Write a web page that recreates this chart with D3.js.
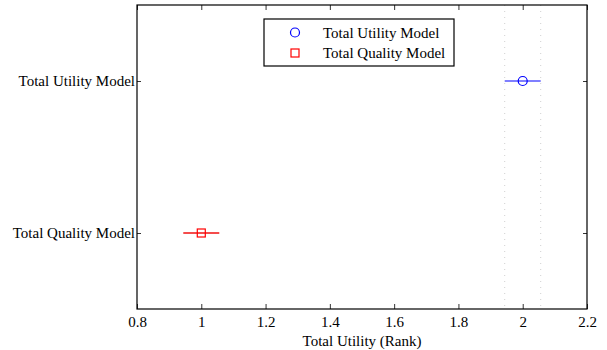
<!DOCTYPE html>
<html>
<head>
<meta charset="utf-8">
<script src="https://cdn.jsdelivr.net/npm/d3@7"></script>
<style>
  body { margin: 0; background: #fff; }
  text { font-family: "Liberation Serif", "Times New Roman", serif; fill: #000; }
</style>
</head>
<body>
<svg id="chart"></svg>
<script>
const models = ["Total Quality Model", "Total Utility Model"];
const means = [1, 2];
const halfWidths = [0.056, 0.056];
const colors = ["#ff0000", "#0000ff"];
const lineColors = ["#f01010", "#5555ff"];
const markers = ["square", "circle"];
const xTicks = [0.8, 1, 1.2, 1.4, 1.6, 1.8, 2, 2.2];
const refModel = 1; // the highlighted group whose interval is marked

const W = 607, H = 350;
const margin = { top: 5, right: 20, bottom: 41, left: 137 };
const width = W - margin.left - margin.right;
const height = H - margin.top - margin.bottom;
const fs = "15px";

const svg = d3.select("#chart").attr("width", W).attr("height", H)
  .append("g").attr("transform", `translate(${margin.left},${margin.top})`);

const x = d3.scaleLinear().domain([0.8, 2.2]).range([0, width]);
const y = d3.scaleLinear().domain([0.5, 2.5]).range([height, 0]);

// reference interval lines
[means[refModel] - halfWidths[refModel], means[refModel] + halfWidths[refModel]].forEach(v => {
  svg.append("line")
    .attr("x1", x(v)).attr("x2", x(v))
    .attr("y1", 0).attr("y2", height)
    .attr("stroke", "#d0d0d0").attr("stroke-width", 1)
    .attr("stroke-dasharray", "1,5");
});

// axes
const xAxis = d3.axisBottom(x).tickValues(xTicks).tickFormat(d3.format("")).tickSizeInner(-5).tickSizeOuter(0).tickPadding(7);
const gx = svg.append("g").attr("transform", `translate(0,${height})`).call(xAxis);
const gxTop = svg.append("g").call(d3.axisTop(x).tickValues(xTicks).tickFormat("").tickSizeInner(-5).tickSizeOuter(0));
const yAxis = d3.axisLeft(y).tickValues([1, 2]).tickFormat(d => models[d - 1]).tickSizeInner(-4).tickSizeOuter(0).tickPadding(2);
const gy = svg.append("g").call(yAxis);
const gyR = svg.append("g").attr("transform", `translate(${width},0)`)
  .call(d3.axisRight(y).tickValues([1, 2]).tickFormat("").tickSizeInner(-4).tickSizeOuter(0));

[gx, gxTop, gy, gyR].forEach(g => {
  g.select(".domain").remove();
  g.selectAll(".tick line").attr("stroke", "#333");
  g.selectAll("text").style("font-size", fs).attr("fill", "#000");
});

svg.append("rect").attr("width", width).attr("height", height)
  .attr("fill", "none").attr("stroke", "#000").attr("stroke-width", 1.2);

svg.append("text")
  .attr("x", width / 2).attr("y", height + 37)
  .attr("text-anchor", "middle").style("font-size", fs)
  .text("Total Utility (Rank)");

// error bars + markers
models.forEach((m, i) => {
  const cy = y(i + 1);
  svg.append("line")
    .attr("x1", x(means[i] - halfWidths[i])).attr("x2", x(means[i] + halfWidths[i]))
    .attr("y1", cy).attr("y2", cy)
    .attr("stroke", lineColors[i]).attr("stroke-width", 1.6);
  drawMarker(svg, markers[i], x(means[i]), cy, colors[i]);
});

function drawMarker(g, type, cx, cy, col) {
  if (type === "circle") {
    g.append("circle").attr("cx", cx).attr("cy", cy).attr("r", 4.5)
      .attr("fill", "none").attr("stroke", col).attr("stroke-width", 1.2);
  } else {
    g.append("rect").attr("x", cx - 4).attr("y", cy - 4).attr("width", 8).attr("height", 8)
      .attr("fill", "none").attr("stroke", col).attr("stroke-width", 1.2);
  }
}

// legend
const legend = svg.append("g").attr("transform", `translate(${264 - margin.left},${19 - margin.top})`);
legend.append("rect").attr("width", 190).attr("height", 47)
  .attr("fill", "#fff").attr("stroke", "#000").attr("stroke-width", 1.2);
const order = [1, 0];
order.forEach((i, k) => {
  const ly = 13.5 + k * 20.5;
  drawMarker(legend, markers[i], 31, ly, colors[i]);
  legend.append("text").attr("x", 59).attr("y", ly + 5)
    .style("font-size", fs).text(models[i]);
});
</script>
</body>
</html>
